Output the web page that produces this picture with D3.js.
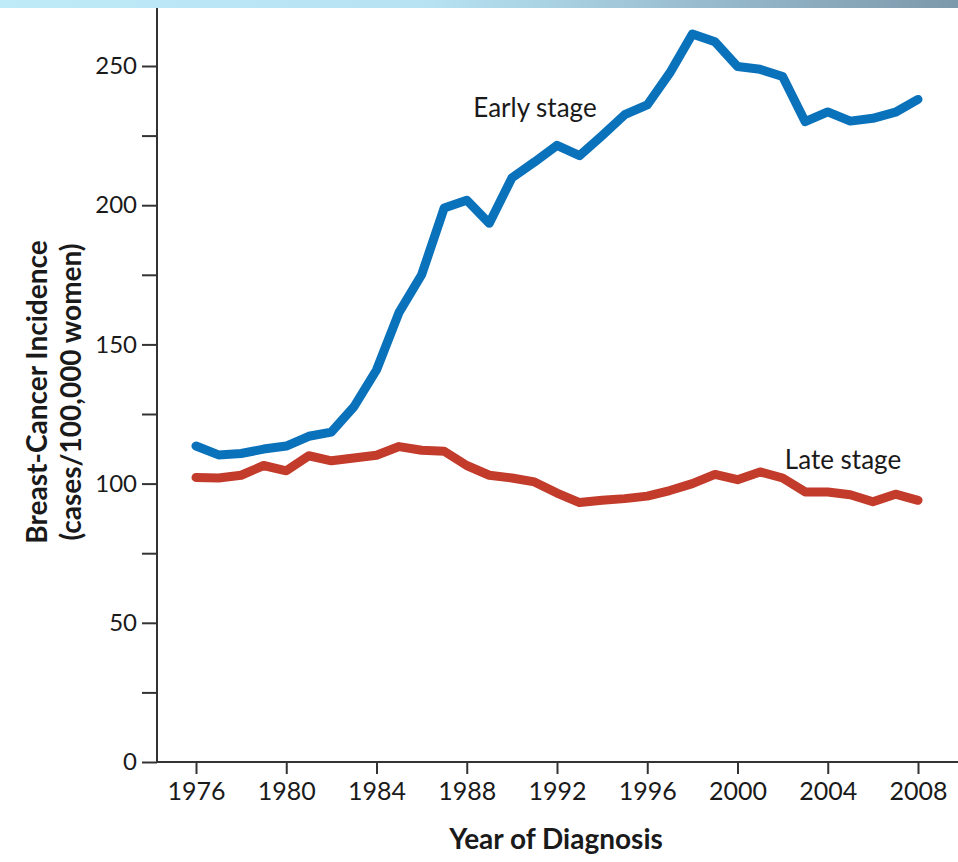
<!DOCTYPE html>
<html>
<head>
<meta charset="utf-8">
<script src="https://cdn.jsdelivr.net/npm/d3@7"></script>
<style>
  html, body { margin: 0; padding: 0; background: #fff; }
  svg { display: block; }
  text { font-family: Lato, "Open Sans", sans-serif; fill: #1a1a1a; }
</style>
</head>
<body>
<script>
const years = d3.range(1976, 2009)
const earlyStage = [113.5, 110.3, 110.8, 112.4, 113.5, 117, 118.5, 127.6, 140.8, 161.5, 175, 199, 201.8, 193.5, 209.8,
  215.5, 221.5, 217.8, 225, 232.5, 236, 247.5, 261.5, 258.7, 249.8, 248.8, 246.2, 230, 233.5, 230.2, 231.2, 233.4, 238]
const lateStage = [102.2, 102, 103, 106.5, 104.6, 110, 108.2, 109.2, 110.2, 113.3, 112, 111.6, 106.5, 103, 102, 100.6,
  96.6, 93.2, 94, 94.6, 95.5, 97.5, 100, 103.3, 101.4, 104.2, 102, 97, 97, 96, 93.5, 96.2, 94]
const xTicks = [1976, 1980, 1984, 1988, 1992, 1996, 2000, 2004, 2008]
const yTicks = d3.range(0, 251, 25)

const width = 958, height = 862
const x0 = 157, y0 = 762   // where the axes cross

const svg = d3.select("body").append("svg")
  .attr("width", width).attr("height", height)

// top banner gradient
const grad = svg.append("defs").append("linearGradient")
  .attr("id", "banner").attr("x1", "0%").attr("x2", "100%")
grad.append("stop").attr("offset", "0%").attr("stop-color", "#bfeaf8")
grad.append("stop").attr("offset", "45%").attr("stop-color", "#b6e2f2")
grad.append("stop").attr("offset", "100%").attr("stop-color", "#7c98ab")
svg.append("rect").attr("x", 0).attr("y", 0).attr("width", width).attr("height", 8)
  .attr("fill", "url(#banner)")

const x = d3.scaleLinear().domain([1976, 2008]).range([196, 918])
const y = d3.scaleLinear().domain([0, 250]).range([y0, 66])

// axes
const yAxis = svg.append("g")
  .attr("transform", `translate(${x0},0)`)
  .call(d3.axisLeft(y).tickValues(yTicks).tickSize(15).tickPadding(5)
    .tickFormat(d => d % 50 === 0 ? d : ""))
yAxis.select(".domain").remove()
yAxis.selectAll("line").attr("stroke", "#333").attr("stroke-width", 2)
yAxis.selectAll("text").attr("font-size", 24).attr("font-family", "Lato, sans-serif").attr("fill", "#1a1a1a")

const xAxis = svg.append("g")
  .attr("transform", `translate(0,${y0})`)
  .call(d3.axisBottom(x).tickValues(xTicks).tickSize(12).tickPadding(8)
    .tickFormat(d3.format("d")))
xAxis.select(".domain").remove()
xAxis.selectAll("line").attr("stroke", "#333").attr("stroke-width", 2)
xAxis.selectAll("text").attr("font-size", 25).attr("font-family", "Lato, sans-serif").attr("fill", "#1a1a1a")

svg.append("line").attr("x1", x0).attr("x2", x0).attr("y1", 8).attr("y2", y0 + 1)
  .attr("stroke", "#333").attr("stroke-width", 2)
svg.append("line").attr("x1", x0 - 1).attr("x2", width).attr("y1", y0).attr("y2", y0)
  .attr("stroke", "#333").attr("stroke-width", 2)

// lines
const line = d3.line().x((d, i) => x(years[i])).y(d => y(d))
svg.append("path").datum(lateStage).attr("d", line)
  .attr("fill", "none").attr("stroke", "#c23b2b").attr("stroke-width", 9)
  .attr("stroke-linejoin", "round").attr("stroke-linecap", "round")
svg.append("path").datum(earlyStage).attr("d", line)
  .attr("fill", "none").attr("stroke", "#0a71bb").attr("stroke-width", 9)
  .attr("stroke-linejoin", "round").attr("stroke-linecap", "round")

// labels
svg.append("text").attr("x", 535).attr("y", 117).attr("text-anchor", "middle")
  .attr("font-size", 26).text("Early stage")
svg.append("text").attr("x", 843).attr("y", 469).attr("text-anchor", "middle")
  .attr("font-size", 26).text("Late stage")

svg.append("text").attr("x", 556).attr("y", 849).attr("text-anchor", "middle")
  .attr("font-size", 28).attr("font-weight", "bold").text("Year of Diagnosis")

const yt = svg.append("text").attr("transform", "translate(47,392) rotate(-90)")
  .attr("text-anchor", "middle").attr("font-size", 28).attr("font-weight", "bold")
yt.append("tspan").attr("x", 0).attr("dy", 0).text("Breast-Cancer Incidence")
yt.append("tspan").attr("x", 0).attr("dy", 34).text("(cases/100,000 women)")
</script>
</body>
</html>
